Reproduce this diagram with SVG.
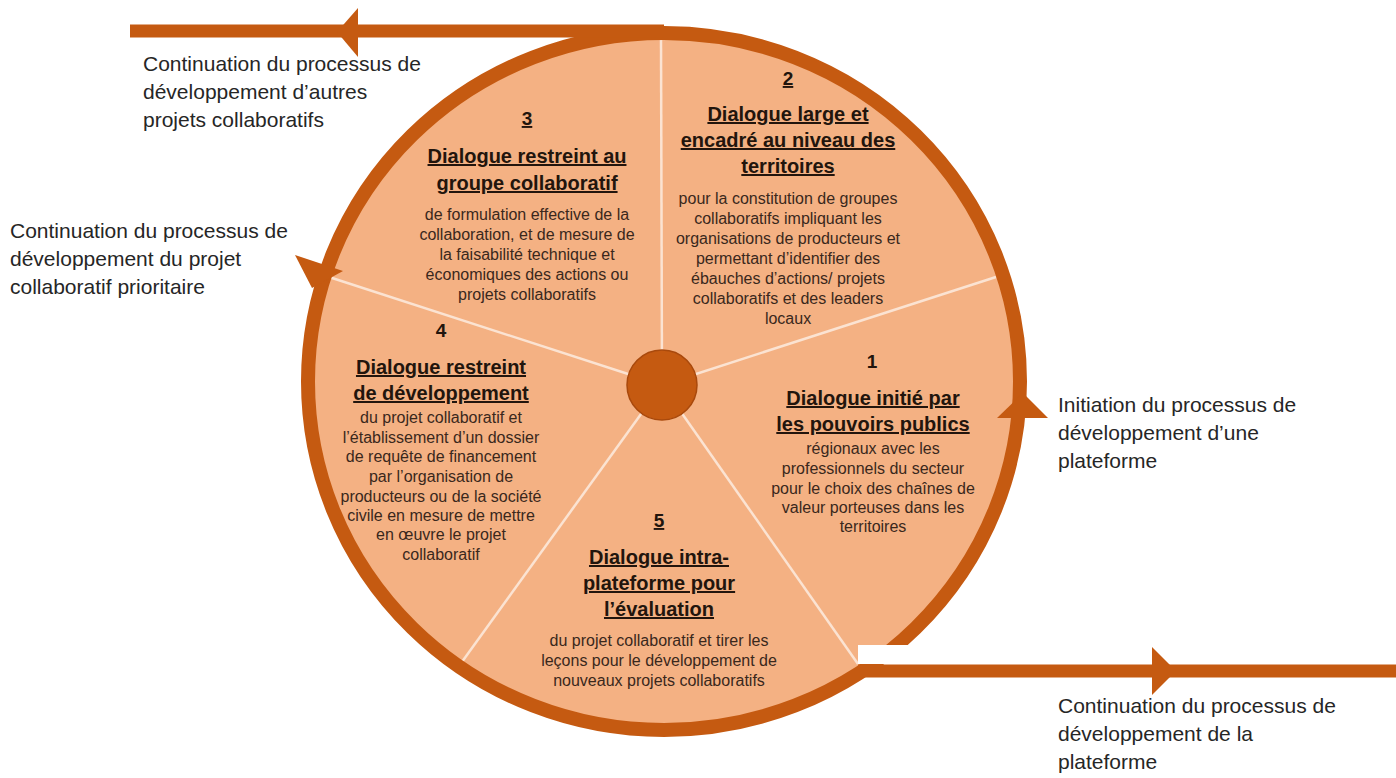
<svg xmlns="http://www.w3.org/2000/svg" width="1396" height="778" viewBox="0 0 1396 778">
<style>
.ring{fill:none;stroke:#C55A11;stroke-width:14}
.disc{fill:#F4B183}
.div{stroke:#FBE3D2;stroke-width:2.5;fill:none}
.flow{stroke:#C55A11;stroke-width:13;fill:none}
.head{fill:#C55A11}
.ttl{font-family:"Liberation Sans",Arial,sans-serif;font-weight:bold;font-size:20px;fill:#22150d;text-anchor:middle;text-decoration:underline}
.num{font-family:"Liberation Sans",Arial,sans-serif;font-weight:bold;font-size:19px;fill:#22150d;text-anchor:middle}
.u{text-decoration:underline}
.body{font-family:"Liberation Sans",Arial,sans-serif;font-size:16px;fill:#3a281c;text-anchor:middle}
.lbl{font-family:"Liberation Sans",Arial,sans-serif;font-size:21px;fill:#262626}
</style>
<rect width="1396" height="778" fill="#ffffff"/>
<g id="wheel">
<ellipse class="disc" cx="664" cy="381.5" rx="356" ry="348.5"/>
<g id="dividers">
<line class="div" x1="662" y1="385" x2="661" y2="38"/>
<line class="div" x1="662" y1="385" x2="996" y2="277"/>
<line class="div" x1="662" y1="385" x2="858" y2="664"/>
<line class="div" x1="662" y1="385" x2="459" y2="666"/>
<line class="div" x1="662" y1="385" x2="329" y2="277"/>
</g>
<ellipse class="ring" cx="664" cy="381.5" rx="356" ry="348.5"/>
</g>
<g id="connectors">
<line class="flow" x1="130" y1="31" x2="664" y2="31"/>
<polygon fill="#ffffff" points="858,645 918,645 918,664 858,664"/>
<line class="flow" x1="858" y1="671" x2="1396" y2="671"/>
<polygon class="head" points="337,32 358,8 358,57"/>
<polygon class="head" points="295,255 343,271 312,288"/>
<polygon class="head" points="1023,393 997,418 1048,418"/>
<polygon class="head" points="1176,671 1152,647 1152,695"/>
</g>
<g id="hub">
<circle cx="662" cy="385" r="35" fill="#C55A11" stroke="#A9490C" stroke-width="1.5"/>
</g>
<g id="seg2">
<text class="num u" x="788" y="85">2</text>
<text class="ttl" x="788" y="121">Dialogue large et</text>
<text class="ttl" x="788" y="147">encadré au niveau des</text>
<text class="ttl" x="788" y="173">territoires</text>
<text class="body" x="788" y="204">pour la constitution de groupes</text>
<text class="body" x="788" y="224">collaboratifs impliquant les</text>
<text class="body" x="788" y="244">organisations de producteurs  et</text>
<text class="body" x="788" y="264">permettant d’identifier des</text>
<text class="body" x="788" y="284">ébauches d’actions/ projets</text>
<text class="body" x="788" y="304">collaboratifs et des leaders</text>
<text class="body" x="788" y="324">locaux</text>
</g>
<g id="seg3">
<text class="num u" x="527" y="125">3</text>
<text class="ttl" x="527" y="163">Dialogue restreint au</text>
<text class="ttl" x="527" y="190">groupe collaboratif</text>
<text class="body" x="527" y="220">de formulation effective de la</text>
<text class="body" x="527" y="240">collaboration, et de mesure de</text>
<text class="body" x="527" y="260">la faisabilité technique et</text>
<text class="body" x="527" y="280">économiques des actions ou</text>
<text class="body" x="527" y="300">projets collaboratifs</text>
</g>
<g id="seg1">
<text class="num" x="872" y="368">1</text>
<text class="ttl" x="873" y="405">Dialogue initié par</text>
<text class="ttl" x="873" y="431">les pouvoirs publics</text>
<text class="body" x="873" y="454">régionaux avec les</text>
<text class="body" x="873" y="474">professionnels du secteur</text>
<text class="body" x="873" y="494">pour le choix des chaînes de</text>
<text class="body" x="873" y="513">valeur porteuses dans les</text>
<text class="body" x="873" y="532">territoires</text>
</g>
<g id="seg4">
<text class="num" x="441" y="337">4</text>
<text class="ttl" x="441" y="374">Dialogue restreint</text>
<text class="ttl" x="441" y="400">de développement</text>
<text class="body" x="441" y="423">du projet collaboratif et</text>
<text class="body" x="441" y="443">l’établissement d’un dossier</text>
<text class="body" x="441" y="462">de requête de financement</text>
<text class="body" x="441" y="482">par l’organisation de</text>
<text class="body" x="441" y="502">producteurs ou de la société</text>
<text class="body" x="441" y="521">civile en mesure de mettre</text>
<text class="body" x="441" y="540">en œuvre le projet</text>
<text class="body" x="441" y="560">collaboratif</text>
</g>
<g id="seg5">
<text class="num u" x="659" y="527">5</text>
<text class="ttl" x="659" y="564">Dialogue intra-</text>
<text class="ttl" x="659" y="590">plateforme pour</text>
<text class="ttl" x="659" y="616">l’évaluation</text>
<text class="body" x="659" y="646">du projet collaboratif et tirer les</text>
<text class="body" x="659" y="666">leçons pour le développement de</text>
<text class="body" x="659" y="686">nouveaux projets collaboratifs</text>
</g>
<g id="label-top">
<text class="lbl" x="143" y="71">Continuation du processus de</text>
<text class="lbl" x="143" y="99">développement d’autres</text>
<text class="lbl" x="143" y="127">projets collaboratifs</text>
</g>
<g id="label-left">
<text class="lbl" x="10" y="238">Continuation du processus de</text>
<text class="lbl" x="10" y="266">développement du projet</text>
<text class="lbl" x="10" y="294">collaboratif prioritaire</text>
</g>
<g id="label-right">
<text class="lbl" x="1058" y="412">Initiation du processus de</text>
<text class="lbl" x="1058" y="440">développement d’une</text>
<text class="lbl" x="1058" y="468">plateforme</text>
</g>
<g id="label-bottom">
<text class="lbl" x="1058" y="713">Continuation du processus de</text>
<text class="lbl" x="1058" y="741">développement de la</text>
<text class="lbl" x="1058" y="769">plateforme</text>
</g>
</svg>
